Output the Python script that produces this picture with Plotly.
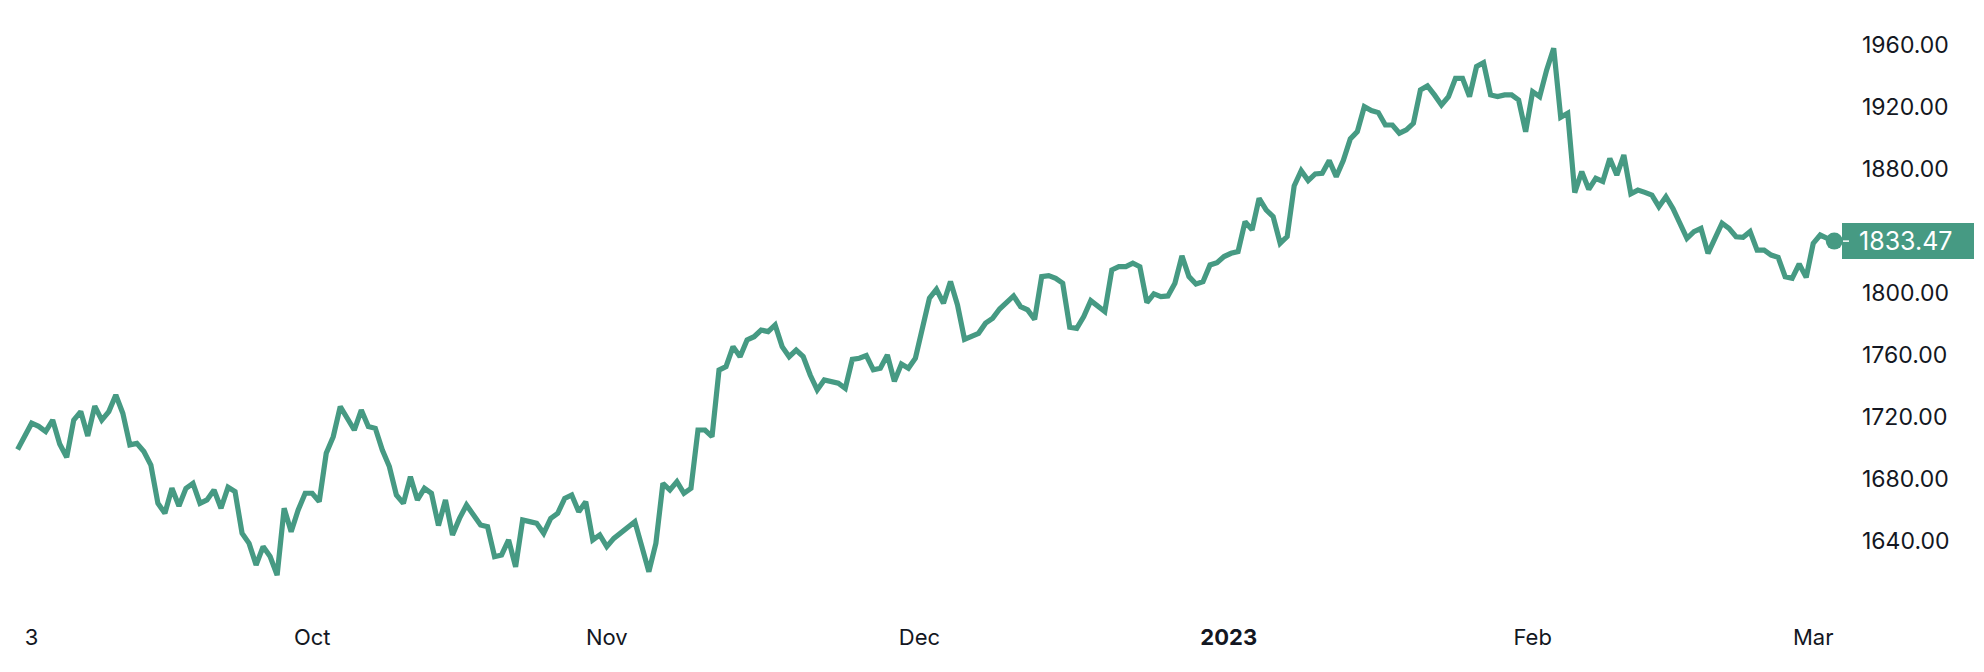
import pandas as pd
import plotly.graph_objects as go

# ---- data -------------------------------------------------------------
first_day = "2022-09-02"
last_day = "2023-03-02"
sessions_per_day = ["0h", "12h"]

price = [
    # Sep
    1699, 1707, 1716, 1714, 1710.6, 1718, 1702.6, 1694, 1718, 1723.5, 1707.8, 1727, 1718, 1723.5,
    1734.2, 1722.4, 1702, 1703, 1697.7, 1689, 1664.3, 1657.9, 1674, 1662.6, 1674, 1677.2, 1664.3,
    1666.5, 1672.9, 1661.1, 1674.7, 1671.9, 1645, 1638.5, 1624.5, 1636.4, 1630, 1618, 1661.1, 1646,
    1660, 1670.8, 1670.8, 1665.4, 1696.6, 1707.3, 1726.7, 1719.2, 1711.6, 1724.5, 1713.8, 1712.7,
    1698.7, 1688, 1669.7,
    # Oct - Nov
    1664.3, 1681.5, 1666.5, 1674, 1670.8, 1650, 1666.5, 1643.9, 1654.6, 1663.2, 1656.8, 1650.3,
    1649.3, 1629.9, 1631, 1640.7, 1623.4, 1653.6, 1652.5, 1651.4, 1645, 1654.6, 1657.9, 1667.5,
    1669.7, 1658.9, 1665.4, 1640.7, 1643.9, 1636.4, 1641.7, 1645, 1649.3, 1652.5, 1636.4, 1620.2,
    1638.5, 1677.2, 1672.9, 1678.3, 1670.8, 1674, 1711.6, 1711.6, 1707.3, 1750.3, 1752.5, 1765.4,
    1758.9, 1769.7, 1771.8, 1776.1, 1775.1, 1779.4, 1765.4, 1758.9, 1763.2,
    # Nov - Dec
    1759, 1747.1, 1737.5, 1743.9, 1742.8, 1741.8, 1738.5, 1757.2, 1757.9, 1759.6, 1750.4, 1751.4,
    1760, 1743, 1754.2, 1751.4, 1758, 1777.2, 1796.6, 1802.4, 1793.4, 1807.4, 1792.3, 1770.1,
    1771.9, 1774, 1780.5, 1783.7, 1789.7, 1794.5, 1798.1, 1791.2, 1789.1, 1783, 1810.6, 1811.2,
    1809.5, 1806.3, 1777.9, 1777.2, 1784.8, 1795.1, 1791.2, 1788, 1814.9, 1817, 1817, 1819.2, 1817,
    1793.8, 1799.4, 1797.7, 1798.1, 1806.3, 1824, 1810.6, 1805.8,
    # Jan - Feb
    1807.3, 1818.1, 1819.6, 1823.5, 1825.6, 1826.7, 1846, 1840.7, 1861.1, 1853.6, 1849.3, 1832.1,
    1836.4, 1869.1, 1878.9, 1872.5, 1876.8, 1877.2, 1885.4, 1875.1, 1885.4, 1899.4, 1904.1, 1920.2,
    1917.7, 1916.4, 1908.4, 1908.4, 1903.1, 1905.2, 1909.5, 1931, 1933.6, 1927.8, 1921.3, 1926.7,
    1938.5, 1938.5, 1926.7, 1946.1, 1948.6, 1927.8, 1926.7, 1927.8, 1927.8, 1924.5, 1904, 1929.9,
    1926.7, 1943.9, 1957.9, 1913.4, 1916, 1864.8, 1878.3, 1866.9, 1874,
    # Feb - Mar
    1872, 1886.8, 1876.1, 1889, 1864, 1866.4, 1864.9, 1863.2, 1855.7, 1862.1, 1854.6,
    1845, 1835.3, 1839.6, 1841.7, 1825.6, 1836.3, 1845, 1841.7, 1836.3, 1835.9, 1839.6, 1827.7,
    1827.7, 1824.5, 1823, 1810.5, 1809.5, 1818.7, 1810.1, 1832, 1837.4, 1835.3, 1833.47,
]

x_tick_vals = ["2022-09-05", "2022-10-03", "2022-11-01", "2022-12-01 07:00",
               "2023-01-02 08:00", "2023-02-01", "2023-03-01"]
x_tick_text = ["3", "Oct", "Nov", "Dec", "<b>2023</b>", "Feb", "Mar"]
y_tick_vals = [1640, 1680, 1720, 1760, 1800, 1880, 1920, 1960]
y_tick_text = [f"{v:.2f}" for v in y_tick_vals]

# ---- build ------------------------------------------------------------
days = pd.bdate_range(first_day, last_day)
times = [d + pd.Timedelta(s) for d in days for s in sessions_per_day]

LINE = "#469A83"
TEXT = "#131722"
FONT = "Inter, Roboto, sans-serif"

fig = go.Figure()
fig.add_trace(go.Scatter(
    x=times, y=price, mode="lines",
    line=dict(color=LINE, width=5.2, shape="linear"),
    hoverinfo="skip", showlegend=False,
))
fig.add_trace(go.Scatter(
    x=[times[-1]], y=[price[-1]], mode="markers",
    marker=dict(color=LINE, size=17),
    hoverinfo="skip", showlegend=False,
))

W, H = 1984, 672
plot_right = 1856
last = price[-1]

# last price badge
fig.add_shape(type="rect", xref="paper", yref="y",
              x0=1842 / plot_right, x1=1974 / plot_right,
              ysizemode="pixel", yanchor=last, y0=-18, y1=18,
              fillcolor=LINE, line=dict(width=0), layer="above")
fig.add_shape(type="line", xref="paper", yref="y",
              x0=1843 / plot_right, x1=1849 / plot_right, y0=last, y1=last,
              line=dict(color="white", width=1.5), layer="above")
fig.add_annotation(xref="paper", yref="y", x=1857 / plot_right, y=last,
                   xanchor="left", yanchor="middle", showarrow=False,
                   text=f"{last:.2f}", font=dict(family=FONT, size=25, color="white"))

fig.update_layout(
    width=W, height=H,
    margin=dict(l=0, r=W - plot_right, t=0, b=72),
    paper_bgcolor="white", plot_bgcolor="white",
    font=dict(family=FONT, size=23, color=TEXT),
    xaxis=dict(
        type="date",
        range=["2022-08-31 17:52", "2023-03-06 01:12"],
        rangebreaks=[dict(bounds=["sat", "mon"])],
        tickmode="array", tickvals=x_tick_vals, ticktext=x_tick_text,
        showgrid=False, zeroline=False, showline=False, ticks="",
        tickfont=dict(family=FONT, size=22, color=TEXT),
        ticklabelstandoff=22, automargin=False,
    ),
    yaxis=dict(
        side="right", range=[1601.94, 1989.03],
        tickmode="array", tickvals=y_tick_vals, ticktext=y_tick_text,
        showgrid=False, zeroline=False, showline=False, ticks="",
        tickfont=dict(family=FONT, size=23, color=TEXT),
        ticklabelstandoff=5, automargin=False,
    ),
    hovermode=False,
)

fig.write_html("out.html", config={"displayModeBar": False},
               post_script="document.body.style.margin='0';")
